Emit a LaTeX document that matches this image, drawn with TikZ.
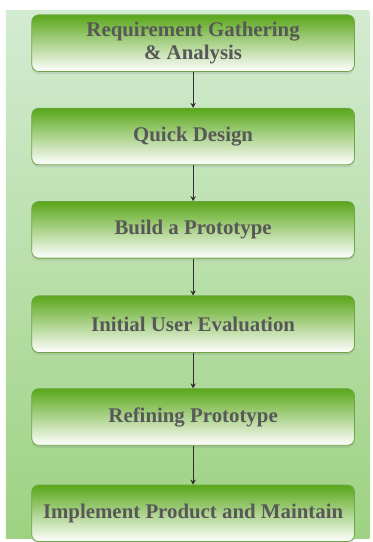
\documentclass[tikz,border=0pt]{standalone}
\usepackage{fontspec}
\setmainfont{Liberation Serif}
\usepackage{tikz}
\usetikzlibrary{arrows.meta,shadows}

\definecolor{panelTop}{HTML}{D3EBD1}
\definecolor{panelBot}{HTML}{9ED282}
\definecolor{boxTop}{HTML}{5AA71A}
\definecolor{boxMid}{HTML}{B9DB98}
\definecolor{boxLine}{HTML}{6CA544}
\definecolor{labelGray}{HTML}{585858}
\definecolor{arrowGray}{HTML}{303030}

\begin{document}
\begin{tikzpicture}[x=1pt, y=-1pt,
		phase/.style={draw=boxLine, line width=0.8pt, rounded corners=7pt,
			top color=boxTop, middle color=boxMid, bottom color=white,
			minimum width=325pt, minimum height=57pt, inner sep=0pt,
			align=center, text=labelGray,
			font=\fontsize{21}{23.5}\selectfont\bfseries,
			drop shadow={opacity=0.2, shadow xshift=0pt, shadow yshift=-2.5pt}},
		flow/.style={draw=arrowGray, line width=0.8pt, -{Stealth[length=5pt,width=5.5pt]}}]
		% white margin and green panel
		\fill[white] (0, 0) rectangle (375, 542);
		\shade[top color=panelTop, bottom color=panelBot] (6, 11) rectangle (372, 542);

		\draw (194.5, 43.5) node[phase] (req)    {Requirement Gathering\\\& Analysis};
		\draw (194.5, 137.5) node[phase] (design)    {Quick Design};
		\draw (194.5, 231.5) node[phase] (build)    {Build a Prototype};
		\draw (194.5, 326.5) node[phase] (eval)    {Initial User Evaluation};
		\draw (194.5, 420) node[phase] (refine)    {Refining Prototype};
		\draw (194.5, 517) node[phase] (impl)    {Implement Product and Maintain};

		\draw[flow] (req) -- (design);
		\draw[flow] (design) -- (build);
		\draw[flow] (build) -- (eval);
		\draw[flow] (eval) -- (refine);
		\draw[flow] (refine) -- (impl);

		\useasboundingbox (0, 0) rectangle (375, 542);
	\end{tikzpicture}
\end{document}
